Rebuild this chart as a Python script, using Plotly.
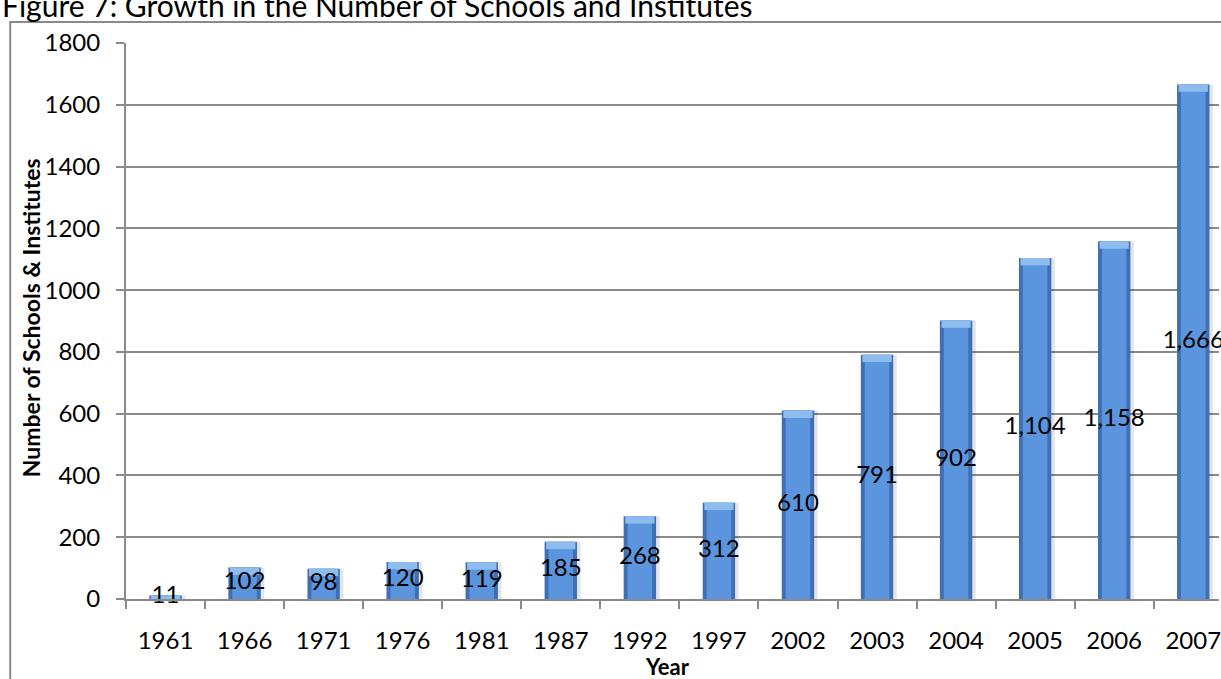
import plotly.graph_objects as go

years = ["1961", "1966", "1971", "1976", "1981", "1987", "1992",
         "1997", "2002", "2003", "2004", "2005", "2006", "2007"]
schools = [11, 102, 98, 120, 119, 185, 268, 312, 610, 791, 902, 1104, 1158, 1666]
y_ticks = [0, 200, 400, 600, 800, 1000, 1200, 1400, 1600, 1800]

W, H = 1221, 679
L, R, T, B = 126, 0, 43, 80
plot_w = W - L - R
plot_h = H - T - B
step_px = 79.2  # width of one category slot in pixels
x_hi = -0.5 + plot_w / step_px


def px_x(px):
    return (px - L) / plot_w


def px_y(py):
    return (H - B - py) / plot_h


FONT = "Lato, Carlito, Calibri, sans-serif"
GRID = "#8a8a8a"

labels = [f"{v:,}" for v in schools]
cap = [min(24.0, v) for v in schools]
cap_base = [v - c for v, c in zip(schools, cap)]

fig = go.Figure()

# soft shadow to the right of each bar
fig.add_trace(go.Bar(x=years, y=schools, width=0.44, offset=-0.19,
                     marker=dict(color="rgba(0,0,0,0.10)", line=dict(width=0)),
                     hoverinfo="skip"))
# darker rim
fig.add_trace(go.Bar(x=years, y=schools, width=0.41, offset=-0.205,
                     marker=dict(color="#3F70B5", line=dict(width=0)),
                     hoverinfo="skip"))
# main body
fig.add_trace(go.Bar(x=years, y=schools, width=0.31, offset=-0.155,
                     marker=dict(color="#5A95DD", line=dict(width=0))))
# lighter bevel at the top
fig.add_trace(go.Bar(x=years, y=cap, base=cap_base, width=0.37, offset=-0.185,
                     marker=dict(color="#8EBCEE", line=dict(width=0)),
                     hoverinfo="skip"))

# value labels in the middle of each bar
fig.add_trace(go.Scatter(x=years, y=[v / 2 for v in schools], mode="text",
                         text=labels, textposition="middle center",
                         textfont=dict(family=FONT, size=24, color="#000000"),
                         cliponaxis=False, hoverinfo="skip"))

fig.update_layout(
    width=W, height=H,
    margin=dict(l=L, r=R, t=T, b=B),
    barmode="overlay",
    showlegend=False,
    plot_bgcolor="white", paper_bgcolor="white",
    font=dict(family=FONT, size=24, color="#000000"),
    xaxis=dict(type="category", categoryorder="array", categoryarray=years,
               range=[-0.5, x_hi], tickson="boundaries",
               ticks="outside", ticklen=8, tickwidth=2, tickcolor=GRID,
               showline=True, linecolor=GRID, linewidth=2,
               showgrid=False, ticklabelstandoff=19,
               tickfont=dict(family=FONT, size=24, color="#000000")),
    yaxis=dict(range=[0, 1800], tickvals=y_ticks,
               ticks="outside", ticklen=8, tickwidth=2, tickcolor=GRID,
               showline=True, linecolor=GRID, linewidth=2,
               showgrid=True, gridcolor=GRID, gridwidth=2,
               zeroline=False, ticklabelstandoff=11,
               tickfont=dict(family=FONT, size=24, color="#000000")),
    shapes=[dict(type="rect", xref="paper", yref="paper",
                 x0=px_x(10), x1=px_x(W + 20), y0=px_y(H + 20), y1=px_y(22),
                 line=dict(color="#8a8a8a", width=2), fillcolor="rgba(0,0,0,0)",
                 layer="below")],
    annotations=[
        dict(text="Figure 7: Growth in the Number of Schools and Institutes",
             xref="paper", yref="paper", x=px_x(0), y=px_y(25),
             xanchor="left", yanchor="bottom", showarrow=False,
             font=dict(family=FONT, size=30, color="#000000")),
        dict(text="<b>Number of Schools &amp; Institutes</b>", textangle=-90,
             xref="paper", yref="paper", x=px_x(31), y=px_y(318),
             xanchor="center", yanchor="middle", showarrow=False,
             font=dict(family=FONT, size=23, color="#000000")),
        dict(text="<b>Year</b>",
             xref="paper", yref="paper", x=px_x(668), y=px_y(666),
             xanchor="center", yanchor="middle", showarrow=False,
             font=dict(family=FONT, size=22, color="#000000")),
    ],
)

fig.write_html("out.html")
